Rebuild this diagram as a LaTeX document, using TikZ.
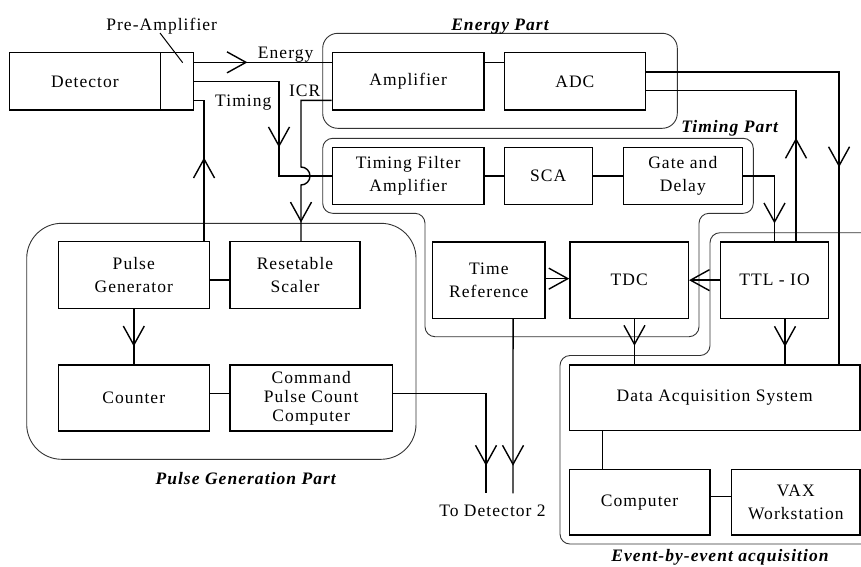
\documentclass[tikz,border=0pt]{standalone}
\usepackage{fontspec}
\setmainfont{Liberation Serif}[LetterSpace=6]
\usetikzlibrary{arrows.meta,decorations.markings}

\tikzset{
  barbtip/.tip={Straight Barb[length=19pt,width=21pt]},
  box/.style={draw, line width=1.5pt, inner sep=0pt, align=center,
    font=\fontsize{17.5}{22.5}\selectfont},
  conn/.style={line width=1.4pt},
  endtip/.style={-barbtip},
  arrat/.style={postaction={decorate}, decoration={markings,
    mark=at position #1 with {\arrow{barbtip}}}},
  grp/.style={draw=black!80, line width=0.9pt},
  lbl/.style={font=\fontsize{17.5}{22}\selectfont, anchor=base, inner sep=0pt},
  part/.style={font=\fontsize{17.5}{22}\selectfont\bfseries\itshape, anchor=base, inner sep=0pt},
}

\begin{document}
\begin{tikzpicture}[x=1pt,y=-1pt]
\useasboundingbox (0,0) rectangle (861,566);

% functional groups
\draw[grp, rounded corners=15pt] (322.7,33.3) rectangle (677.3,128.3);
\draw[grp, rounded corners=10pt] (322.7,138.3) -- (753.3,138.3) -- (753.3,213.3)
  -- (699,213.3) -- (699,336.7) -- (425,336.7) -- (425,213.3) -- (322.7,213.3) -- cycle;
\draw[grp, rounded corners=35pt] (26.7,223.3) rectangle (416,459.3);
\draw[grp, rounded corners=10pt] (866,232.7) -- (710,232.7) -- (710,355.5)
  -- (560,355.5) -- (560,544) -- (866,544);

\node[part] (epart) at (500,30.7) {Energy Part};
\node[part] (tpart) at (729.7,132.5) {Timing Part};
\node[part] (ppart) at (245.7,484.3) {Pulse Generation Part};
\node[part] (evpart) at (720,561.3) {Event-by-event acquisition};

% blocks
\node[box, minimum width=151.4pt, minimum height=57.3pt] (det) at (85,81.35) {Detector};
\node[box, minimum width=32.6pt, minimum height=57.3pt] (pre) at (177,81.35) {};
\node[box, minimum width=151.7pt, minimum height=57.3pt] (amp) at (408.15,81.35) {Amplifier};
\node[box, minimum width=141.2pt, minimum height=57.3pt] (adc) at (574.9,81.35) {ADC};
\node[box, minimum width=151.7pt, minimum height=56.6pt] (tfa) at (408.15,176) {Timing Filter\\Amplifier};
\node[box, minimum width=88pt, minimum height=56.6pt] (sca) at (548.3,176) {SCA};
\node[box, minimum width=119pt, minimum height=56.6pt] (gate) at (682.8,176) {Gate and\\Delay};
\node[box, minimum width=151pt, minimum height=66.6pt] (pg) at (133.8,275) {Pulse\\Generator};
\node[box, minimum width=130pt, minimum height=66.6pt] (rs) at (295,275) {Resetable\\Scaler};
\node[box, minimum width=151pt, minimum height=66pt] (cnt) at (133.8,398) {Counter};
\node[box, minimum width=162.3pt, minimum height=66pt,
  font=\fontsize{17.5}{19.2}\selectfont] (cpcc) at (311.15,398) {Command\\Pulse Count\\Computer};
\node[box, minimum width=112.3pt, minimum height=76.3pt] (tref) at (488.85,280.15) {Time\\Reference};
\node[box, minimum width=118.3pt, minimum height=76.3pt] (tdc) at (629.15,280.15) {TDC};
\node[box, minimum width=107.6pt, minimum height=76.3pt] (ttl) at (774.5,280.15) {TTL - IO};
\node[box, minimum width=290.7pt, minimum height=65.7pt] (das) at (714.65,397.85) {Data Acquisition System};
\node[box, minimum width=140.7pt, minimum height=65.7pt] (comp) at (639.65,502.15) {Computer};
\node[box, minimum width=128.3pt, minimum height=65.7pt] (vax) at (795.85,502.15) {VAX\\Workstation};

% signal labels
\node[lbl] (prelbl) at (161.7,30) {Pre-Amplifier};
\node[lbl] (elbl) at (285.7,58.3) {Energy};
\node[lbl] (tlbl) at (243.3,106) {Timing};
\node[lbl] (icrlbl) at (304.7,96) {ICR};
\node[lbl] (todet) at (492.5,516.7) {To Detector 2};

% free points
\coordinate (prept) at (182.7,62.7);
\coordinate (tbend) at (279,176);
\coordinate (icr) at (301,167);
\coordinate (td1) at (486,493.3);
\coordinate (td2) at (513,493.3);

% connections
\draw[line width=1pt] (160,33) -- (prept);
\draw[conn, arrat=53.4pt] ([yshift=19pt]pre.east) -- ([yshift=19pt]amp.west);
\draw[conn, arrat=151pt] (pre.east) -| (tbend) -- (tfa.west);
\draw[conn, arrat=163pt] ([yshift=-19pt]amp.west) -| (icr)
  arc[start angle=90, end angle=-90, radius=9pt] -- (icr |- rs.north);
\draw[conn, arrat=83.4pt] ([xshift=-6pt]pg.north east) |- ([yshift=-19pt]pre.east);
\draw[conn] ([yshift=19pt]amp.east) -- ([yshift=19pt]adc.west);
\draw[conn] (tfa) -- (sca);
\draw[conn] (sca) -- (gate);
\draw[conn, arrat=288pt] ([yshift=9.35pt]adc.east) -| ([xshift=-21.7pt]das.north east);
\draw[conn, arrat=103.4pt] ([xshift=21.5pt]ttl.north) |- ([yshift=-9.35pt]adc.east);
\draw[conn, arrat=78.9pt] (gate.east) -| (ttl.north);
\draw[conn, endtip] ([yshift=1.5pt]tref.east) -- ([yshift=1.5pt]tdc.west);
\draw[conn, endtip] (ttl.west) -- (tdc.east);
\draw[conn, arrat=26.7pt] ([xshift=5.3pt]tdc.south) coordinate (t1) -- (t1 |- das.north);
\draw[conn, arrat=27.7pt] ([xshift=10.5pt]ttl.south) coordinate (t2) -- (t2 |- das.north);
\draw[conn, arrat=37.4pt] (pg.south) -- (cnt.north);
\draw[conn] ([yshift=-5pt]pg.east) -- ([yshift=-5pt]rs.west);
\draw[conn] ([yshift=4.7pt]cnt.east) -- ([yshift=4.7pt]cpcc.west);
\draw[conn, arrat=165.4pt] ([yshift=4.7pt]cpcc.east) -| (td1);
\draw[conn, arrat=146.7pt] ([xshift=24.2pt]tref.south) -- (td2);
\draw[conn] ([xshift=-37.35pt]comp.north) coordinate (c1) -- (c1 |- das.south);
\draw[conn] ([yshift=5.45pt]comp.east) -- ([yshift=5.45pt]vax.west);
\end{tikzpicture}
\end{document}
